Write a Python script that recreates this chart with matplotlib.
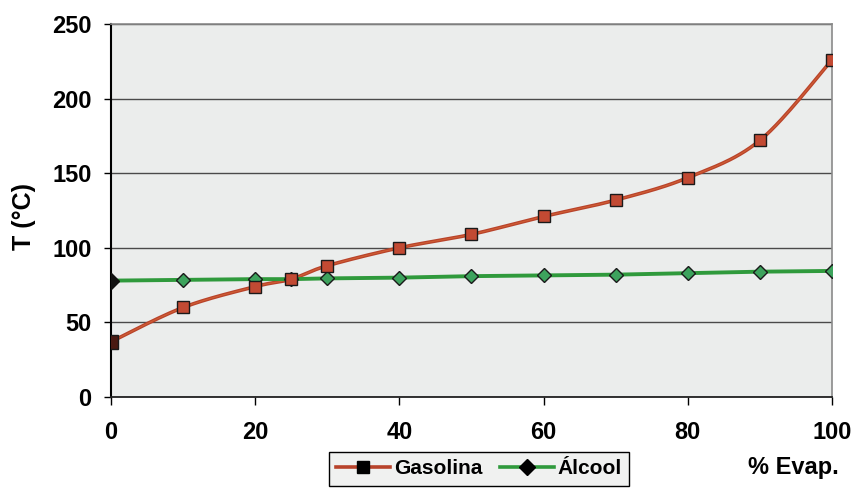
import numpy as np
import matplotlib.pyplot as plt
from matplotlib.lines import Line2D

plt.rcParams['font.family'] = ['Liberation Sans', 'DejaVu Sans']
plt.rcParams['font.weight'] = 'bold'

# % evaporated vs. temperature
evap = [0, 10, 20, 25, 30, 40, 50, 60, 70, 80, 90, 100]
gasolina = [37, 60, 74, 79, 88, 100, 109, 121, 132, 147, 172, 226]
alcool = [78, 78.5, 79, 79, 79.5, 80, 81, 81.5, 82, 83, 84, 84.5]

x_ticks = [0, 20, 40, 60, 80, 100]
y_ticks = [0, 50, 100, 150, 200, 250]


def smooth(xs, ys, n=30):
    # Bezier smoothing through the points (tension 1/6, like spreadsheet charts)
    p = np.column_stack([xs, ys]).astype(float)
    pts = np.vstack([p[0], p, p[-1]])
    out = []
    t = np.linspace(0, 1, n)[:, None]
    for i in range(1, len(pts) - 2):
        p0, p1, p2, p3 = pts[i - 1], pts[i], pts[i + 1], pts[i + 2]
        c1 = p1 + (p2 - p0) / 6
        c2 = p2 - (p3 - p1) / 6
        seg = ((1 - t) ** 3) * p1 + 3 * ((1 - t) ** 2) * t * c1 \
            + 3 * (1 - t) * t ** 2 * c2 + t ** 3 * p2
        out.append(seg)
    out = np.vstack(out)
    return out[:, 0], out[:, 1]


fig = plt.figure(figsize=(8.61, 4.92), dpi=100, facecolor='white')
ax = fig.add_axes([0.1289, 0.1931, 0.8374, 0.7581])
ax.set_facecolor('#ebedec')

red = '#b8432b'
green = '#2f9a3c'

gx, gy = smooth(evap, gasolina)
ax.plot(gx, gy, color=red, lw=2.6, zorder=3, solid_capstyle='round')
ax.plot(gx, gy, color='#e0703a', lw=0.8, alpha=0.6, zorder=3)
ax.plot(evap, alcool, color=green, lw=2.8, zorder=3)

ax.plot(evap[1:], alcool[1:], ls='none', marker='D', ms=7, mfc='#3da35d',
        mec='#1a1a1a', mew=1.0, zorder=4)
ax.plot(evap[1:], gasolina[1:], ls='none', marker='s', ms=9, mfc='#c24a33',
        mec='#1a1a1a', mew=1.0, zorder=5)
ax.plot(evap[:1], gasolina[:1], ls='none', marker='s', ms=10, mfc='#4a1a12',
        mec='#1a1a1a', mew=1.0, zorder=5)
ax.plot(evap[:1], alcool[:1], ls='none', marker='D', ms=8, mfc='#111111',
        mec='#111111', zorder=5)

ax.set_xlim(0, 100)
ax.set_ylim(0, 250)
ax.set_xticks(x_ticks)
ax.set_yticks(y_ticks)
ax.yaxis.grid(True, color='#4a4a4a', lw=1.0)
ax.set_axisbelow(True)

ax.tick_params(axis='y', direction='out', length=5, width=1, pad=9,
               labelsize=17)
ax.tick_params(axis='x', direction='out', length=6, width=1, pad=11,
               labelsize=17)
for lbl in ax.get_xticklabels() + ax.get_yticklabels():
    lbl.set_fontweight('bold')

ax.spines['left'].set_color('black')
ax.spines['left'].set_linewidth(1.5)
ax.spines['bottom'].set_color('#222222')
ax.spines['bottom'].set_linewidth(1.3)
for s in ('top', 'right'):
    ax.spines[s].set_color('#8a8a8a')
    ax.spines[s].set_linewidth(1.2)

fig.text(0.028, 0.560, 'T (°C)', rotation=90, ha='center', va='center',
         fontsize=18, fontweight='bold')
fig.text(0.921, 0.049, '% Evap.', ha='center', va='center',
         fontsize=17, fontweight='bold')

handles = [
    Line2D([], [], color=red, lw=2.6, marker='s', ms=9, mfc='black',
           mec='black'),
    Line2D([], [], color=green, lw=2.6, marker='D', ms=8, mfc='black',
           mec='black'),
]
leg = fig.legend(handles, ['Gasolina', 'Álcool'], ncol=2,
                 loc='upper left', bbox_to_anchor=(0.382, 0.081),
                 frameon=True, fancybox=False, edgecolor='black',
                 facecolor='#f0f1f0', framealpha=1,
                 handlelength=2.6, handletextpad=0.2, columnspacing=0.8,
                 borderpad=0.35, borderaxespad=0,
                 prop={'weight': 'bold', 'size': 15})
leg.get_frame().set_linewidth(1.0)

fig.savefig('out.png', dpi=100, facecolor='white')
